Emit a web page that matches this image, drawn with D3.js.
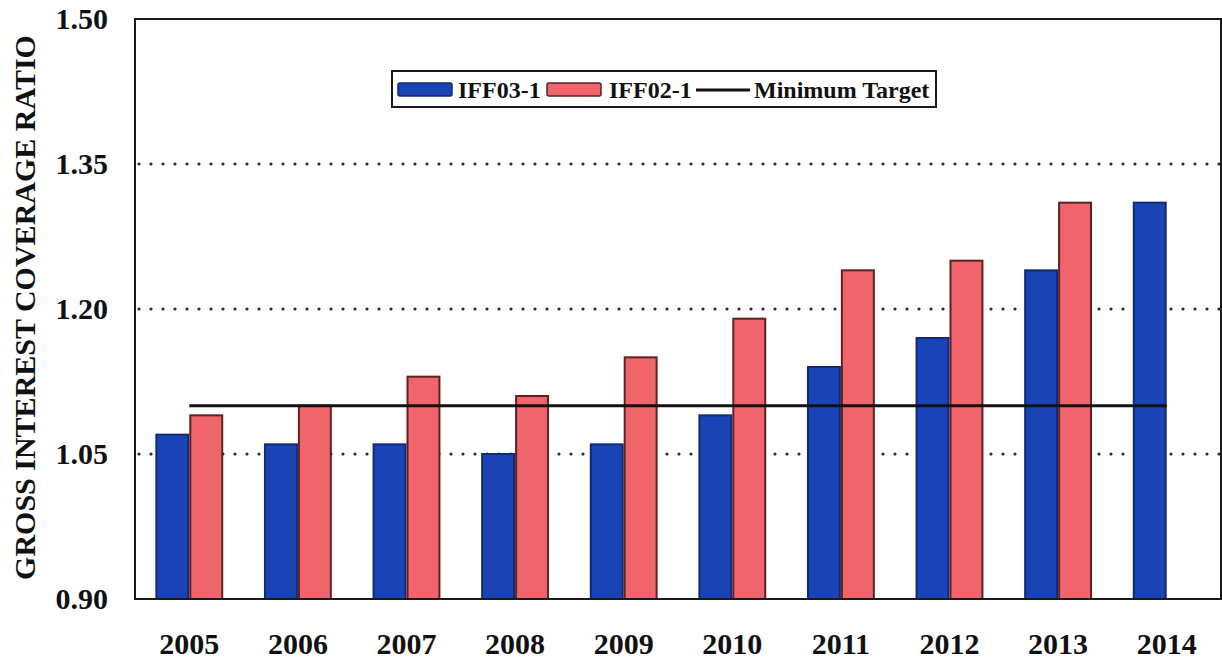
<!DOCTYPE html>
<html>
<head>
<meta charset="utf-8">
<script src="https://cdn.jsdelivr.net/npm/d3@7"></script>
<style>
  html, body { margin: 0; padding: 0; background: #fff; }
  svg { display: block; }
  text { font-family: "Liberation Serif", "Times New Roman", serif; font-weight: bold; fill: #111; }
</style>
</head>
<body>
<svg id="chart" width="1222" height="662"></svg>
<script>
// Gross interest coverage ratio by year
const years = ["2005", "2006", "2007", "2008", "2009", "2010", "2011", "2012", "2013", "2014"];
const iff03 = [1.07, 1.06, 1.06, 1.05, 1.06, 1.09, 1.14, 1.17, 1.24, 1.31];
const iff02 = [1.09, 1.10, 1.13, 1.11, 1.15, 1.19, 1.24, 1.25, 1.31, null];
const minimumTarget = [1.10, 1.10, 1.10, 1.10, 1.10, 1.10, 1.10, 1.10, 1.10, 1.10];
const yTicks = [0.90, 1.05, 1.20, 1.35, 1.50];
const gridValues = [1.05, 1.20, 1.35];
const seriesNames = ["IFF03-1", "IFF02-1"];
const targetName = "Minimum Target";
const yTitle = "GROSS INTEREST COVERAGE RATIO";

const colors = {
  "IFF03-1": { fill: "#1a44b6", stroke: "#0e2a78" },
  "IFF02-1": { fill: "#f0646c", stroke: "#5e2222" }
};

const svg = d3.select("#chart");
const plot = { left: 135, right: 1221, top: 19, bottom: 599 };

const x = d3.scaleBand()
  .domain(years)
  .range([plot.left, plot.right])
  .paddingInner(0.375)
  .paddingOuter(0.1875);

const x1 = d3.scaleBand()
  .domain(seriesNames)
  .range([0, x.bandwidth()])
  .padding(0);

const y = d3.scaleLinear()
  .domain([0.90, 1.50])
  .range([plot.bottom, plot.top]);

// dotted horizontal gridlines
svg.append("g")
  .selectAll("line")
  .data(gridValues)
  .join("line")
  .attr("x1", plot.left + 4)
  .attr("x2", plot.right)
  .attr("y1", d => y(d))
  .attr("y2", d => y(d))
  .attr("stroke", "#2a2a2a")
  .attr("stroke-width", 3.2)
  .attr("stroke-linecap", "round")
  .attr("stroke-dasharray", "0 12");

// bars
const rows = years.map((yr, i) => ({
  year: yr,
  values: [
    { key: "IFF03-1", value: iff03[i] },
    { key: "IFF02-1", value: iff02[i] }
  ].filter(d => d.value != null)
}));

svg.append("g")
  .selectAll("g")
  .data(rows)
  .join("g")
  .attr("transform", d => `translate(${x(d.year)},0)`)
  .selectAll("rect")
  .data(d => d.values)
  .join("rect")
  .attr("x", d => x1(d.key) + 1)
  .attr("width", x1.bandwidth() - 2)
  .attr("y", d => y(d.value))
  .attr("height", d => y(0.90) - y(d.value))
  .attr("fill", d => colors[d.key].fill)
  .attr("stroke", d => colors[d.key].stroke)
  .attr("stroke-width", 2);

// minimum target line, drawn over the bars
const line = d3.line()
  .x((d, i) => x(years[i]) + x.bandwidth() / 2)
  .y(d => y(d));

svg.append("path")
  .datum(minimumTarget)
  .attr("d", line)
  .attr("fill", "none")
  .attr("stroke", "#111")
  .attr("stroke-width", 3);

// plot frame
svg.append("rect")
  .attr("x", plot.left)
  .attr("y", plot.top)
  .attr("width", plot.right - plot.left)
  .attr("height", plot.bottom - plot.top)
  .attr("fill", "none")
  .attr("stroke", "#1a1a1a")
  .attr("stroke-width", 2);

// y axis labels
const yAxis = d3.axisLeft(y)
  .tickValues(yTicks)
  .tickFormat(d3.format(".2f"))
  .tickSize(0)
  .tickPadding(27);

svg.append("g")
  .attr("transform", `translate(${plot.left},0)`)
  .call(yAxis)
  .call(g => g.select(".domain").remove())
  .call(g => g.selectAll("text")
    .attr("font-size", 30)
    .attr("font-family", null)
    .attr("fill", "#111"));

// x axis labels
const xAxis = d3.axisBottom(x)
  .tickSize(0)
  .tickPadding(34);

svg.append("g")
  .attr("transform", `translate(0,${plot.bottom})`)
  .call(xAxis)
  .call(g => g.select(".domain").remove())
  .call(g => g.selectAll("text")
    .attr("font-size", 30)
    .attr("font-family", null)
    .attr("fill", "#111"));

// y axis title
svg.append("text")
  .attr("transform", `translate(35,${(32 + 583) / 2}) rotate(-90)`)
  .attr("text-anchor", "middle")
  .attr("font-size", 30)
  .text(yTitle);

// legend
const legend = svg.append("g");
legend.append("rect")
  .attr("x", 392).attr("y", 71)
  .attr("width", 544).attr("height", 36)
  .attr("fill", "#fff")
  .attr("stroke", "#1a1a1a")
  .attr("stroke-width", 2);

const legendItems = [
  { name: seriesNames[0], type: "swatch", sx: 398, tx: 458 },
  { name: seriesNames[1], type: "swatch", sx: 547, tx: 609 },
  { name: targetName, type: "line", sx: 696, tx: 754 }
];

legendItems.forEach(item => {
  if (item.type === "swatch") {
    legend.append("rect")
      .attr("x", item.sx).attr("y", 83)
      .attr("width", 54).attr("height", 13)
      .attr("rx", 2)
      .attr("fill", colors[item.name].fill)
      .attr("stroke", colors[item.name].stroke)
      .attr("stroke-width", 1.5);
  } else {
    legend.append("line")
      .attr("x1", item.sx).attr("x2", item.sx + 54)
      .attr("y1", 90).attr("y2", 90)
      .attr("stroke", "#111")
      .attr("stroke-width", 3);
  }
  legend.append("text")
    .attr("x", item.tx)
    .attr("y", 98)
    .attr("font-size", 24)
    .text(item.name);
});
</script>
</body>
</html>
